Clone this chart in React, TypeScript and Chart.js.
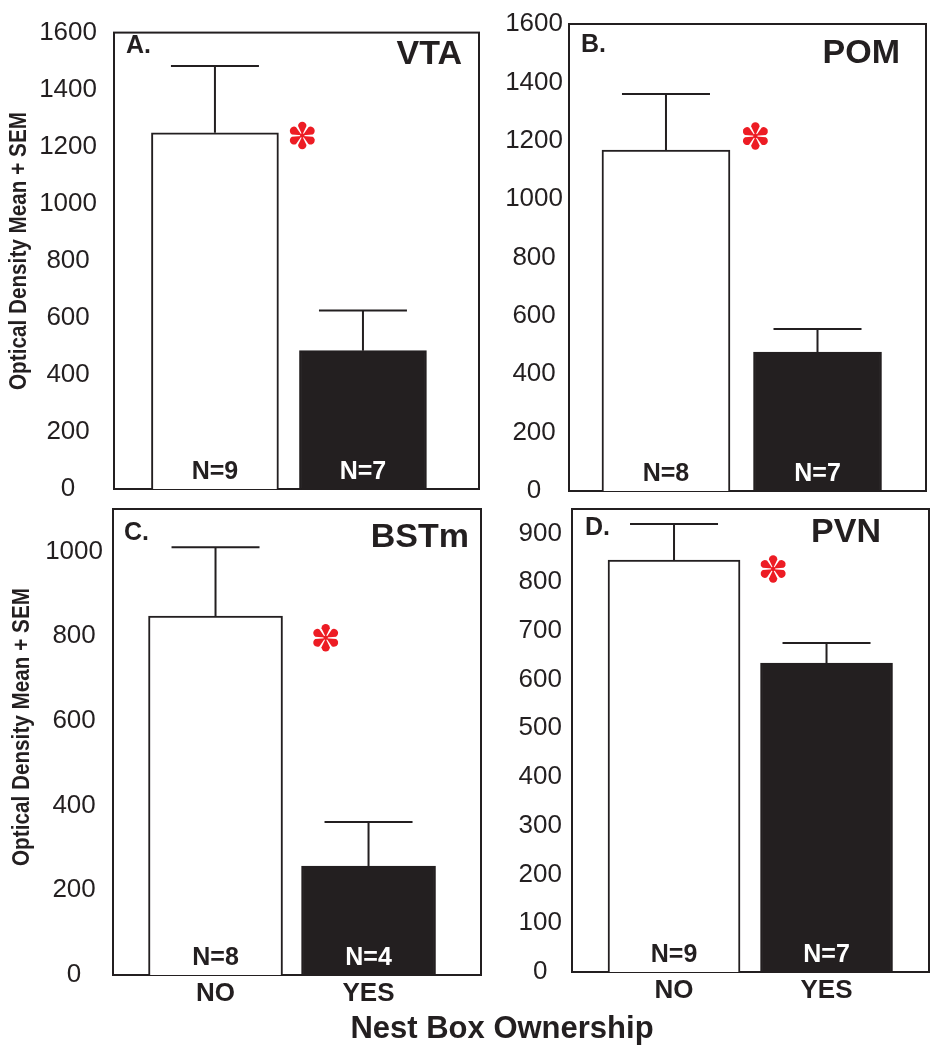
import React, { useEffect, useRef } from 'react';
import { Chart, registerables } from 'chart.js';

Chart.register(...registerables);

// ---------- data ----------
const categories = ['NO', 'YES'];
const regionNames = ['VTA', 'POM', 'BSTm', 'PVN'];
const panelLetters = ['A.', 'B.', 'C.', 'D.'];

const vtaMeans = [1249, 485];
const vtaSem = [234, 141];
const vtaN = [9, 7];

const pomMeans = [1168, 476];
const pomSem = [192, 79];
const pomN = [8, 7];

const bstmMeans = [847, 257];
const bstmSem = [163, 104];
const bstmN = [8, 4];

const pvnMeans = [845, 634];
const pvnSem = [74, 41];
const pvnN = [9, 7];

// significance marker positions in data units [x (category space), y]
const vtaStar = [0.59, 1239];
const pomStar = [0.59, 1216];
const bstmStar = [0.72, 796];
const pvnStar = [0.65, 827];

const yAxisTitle = 'Optical Density Mean + SEM';
const xAxisTitle = 'Nest Box Ownership';

// ---------- styles / layout ----------
const INK = '#231f20';
const RED = '#ed1c24';
const W = 936;
const H = 1050;
const SANS = '"Liberation Sans", Arial, Helvetica, sans-serif';

type PanelCfg = {
  key: string;
  region: string;
  letter: string;
  means: number[];
  sem: number[];
  n: number[];
  star: number[];
  box: { l: number; t: number; r: number; b: number };
  xMin: number;
  xMax: number;
  barThickness: number;
  yMax: number;
  yStep: number;
  tickPad: number;
  showX: boolean;
  letterAt: number[];
  regionRightAt: number[];
  yTitleAt?: number[];
  xTitleAt?: number[];
};

const panels: PanelCfg[] = [
  {
    key: 'A', region: regionNames[0], letter: panelLetters[0],
    means: vtaMeans, sem: vtaSem, n: vtaN, star: vtaStar,
    box: { l: 114, t: 24, r: 479, b: 489 },
    xMin: -0.682, xMax: 1.784, barThickness: 127,
    yMax: 1600, yStep: 200, tickPad: 17, showX: false,
    letterAt: [126, 46], regionRightAt: [462, 55],
    yTitleAt: [20, 251],
  },
  {
    key: 'B', region: regionNames[1], letter: panelLetters[1],
    means: pomMeans, sem: pomSem, n: pomN, star: pomStar,
    box: { l: 569, t: 24, r: 926, b: 491 },
    xMin: -0.640, xMax: 1.716, barThickness: 128,
    yMax: 1600, yStep: 200, tickPad: 6, showX: false,
    letterAt: [581, 45], regionRightAt: [900, 54],
  },
  {
    key: 'C', region: regionNames[2], letter: panelLetters[2],
    means: bstmMeans, sem: bstmSem, n: bstmN, star: bstmStar,
    box: { l: 113, t: 509, r: 481, b: 975 },
    xMin: -0.670, xMax: 1.735, barThickness: 134,
    yMax: 1100, yStep: 200, tickPad: 10, showX: true,
    letterAt: [124, 533], regionRightAt: [469, 538],
    yTitleAt: [23, 727], xTitleAt: [502, 1029],
  },
  {
    key: 'D', region: regionNames[3], letter: panelLetters[3],
    means: pvnMeans, sem: pvnSem, n: pvnN, star: pvnStar,
    box: { l: 572, t: 509, r: 929, b: 972 },
    xMin: -0.669, xMax: 1.672, barThickness: 132,
    yMax: 950, yStep: 100, tickPad: 10, showX: true,
    letterAt: [585, 528], regionRightAt: [881, 533],
  },
];

const X_AXIS_H = 40;

// six teardrop-petal asterisk (significance marker)
function drawStar(ctx: CanvasRenderingContext2D, cx: number, cy: number, r: number) {
  ctx.save();
  ctx.fillStyle = RED;
  for (let k = 0; k < 6; k++) {
    const ang = -Math.PI / 2 + (k * Math.PI) / 3;
    const c = Math.cos(ang);
    const s = Math.sin(ang);
    const tipR = r * 0.3;
    const endC = r * 0.68;
    const w = r * 0.3;
    ctx.beginPath();
    // narrow start near the centre
    ctx.moveTo(cx + c * r * 0.05, cy + s * r * 0.05);
    const px = -s;
    const py = c;
    ctx.lineTo(cx + c * endC + px * w, cy + s * endC + py * w);
    ctx.arc(cx + c * endC, cy + s * endC, w, ang + Math.PI / 2, ang - Math.PI / 2, true);
    ctx.closePath();
    ctx.fill();
    void tipR;
  }
  ctx.beginPath();
  ctx.arc(cx, cy, r * 0.16, 0, Math.PI * 2);
  ctx.fill();
  ctx.restore();
}

function decorPlugin(p: PanelCfg) {
  return {
    id: 'decor' + p.key,
    beforeDatasetsDraw(chart: any) {
      const { ctx, chartArea: a } = chart;
      ctx.save();
      ctx.strokeStyle = INK;
      ctx.lineWidth = 2;
      ctx.strokeRect(a.left, a.top, a.right - a.left, a.bottom - a.top);
      ctx.restore();
    },
    afterDatasetsDraw(chart: any) {
      const { ctx, chartArea: a } = chart;
      const xs = chart.scales.x;
      const ys = chart.scales.y;
      ctx.save();
      // error bars
      ctx.strokeStyle = INK;
      ctx.lineWidth = 2;
      const capHalf = 44;
      p.means.forEach((m, i) => {
        const px = xs.getPixelForValue(i);
        const y0 = ys.getPixelForValue(m);
        const y1 = ys.getPixelForValue(m + p.sem[i]);
        ctx.beginPath();
        ctx.moveTo(px, y0);
        ctx.lineTo(px, y1);
        ctx.moveTo(px - capHalf, y1);
        ctx.lineTo(px + capHalf, y1);
        ctx.stroke();
      });
      // N labels
      ctx.font = `bold 25px ${SANS}`;
      ctx.textAlign = 'center';
      ctx.textBaseline = 'middle';
      p.n.forEach((nv, i) => {
        const px = xs.getPixelForValue(i);
        ctx.fillStyle = i === 0 ? INK : '#ffffff';
        ctx.fillText('N=' + nv, px, a.bottom - 17);
      });
      // panel letter
      ctx.fillStyle = INK;
      ctx.textAlign = 'left';
      ctx.font = `bold 25px ${SANS}`;
      ctx.fillText(p.letter, p.letterAt[0], p.letterAt[1]);
      // region name
      ctx.textAlign = 'right';
      ctx.font = `bold 34px ${SANS}`;
      ctx.fillText(p.region, p.regionRightAt[0], p.regionRightAt[1]);
      // significance star
      drawStar(ctx, xs.getPixelForValue(p.star[0]), ys.getPixelForValue(p.star[1]), 14);
      // y axis title
      if (p.yTitleAt) {
        ctx.save();
        ctx.translate(p.yTitleAt[0], p.yTitleAt[1]);
        ctx.rotate(-Math.PI / 2);
        ctx.font = `bold 23px ${SANS}`;
        ctx.textAlign = 'center';
        ctx.textBaseline = 'middle';
        ctx.fillStyle = INK;
        ctx.fillText(yAxisTitle, 0, 0, 278);
        ctx.restore();
      }
      // x axis title
      if (p.xTitleAt) {
        ctx.font = `bold 31px ${SANS}`;
        ctx.textAlign = 'center';
        ctx.textBaseline = 'middle';
        ctx.fillStyle = INK;
        ctx.fillText(xAxisTitle, p.xTitleAt[0], p.xTitleAt[1]);
      }
      ctx.restore();
    },
  };
}

function buildConfig(p: PanelCfg): any {
  const padBottom = p.showX ? H - p.box.b - X_AXIS_H : H - p.box.b;
  return {
    type: 'bar',
    data: {
      datasets: [
        {
          data: p.means.map((m, i) => ({ x: i, y: m })),
          backgroundColor: ['#ffffff', INK],
          borderColor: INK,
          borderWidth: 2,
          borderSkipped: 'start',
          barThickness: p.barThickness,
        },
      ],
    },
    options: {
      responsive: false,
      animation: false,
      devicePixelRatio: 1,
      layout: { padding: { left: 0, top: p.box.t, right: W - p.box.r, bottom: padBottom } },
      plugins: {
        legend: { display: false },
        tooltip: { enabled: false },
        title: { display: false },
      },
      scales: {
        x: {
          type: 'linear',
          min: p.xMin,
          max: p.xMax,
          offset: false,
          display: p.showX,
          grid: { display: false, drawTicks: false },
          border: { display: false },
          afterBuildTicks: (s: any) => {
            s.ticks = categories.map((_, i) => ({ value: i }));
          },
          afterFit: (s: any) => {
            if (p.showX) s.height = X_AXIS_H;
          },
          ticks: {
            autoSkip: false,
            maxRotation: 0,
            padding: 3,
            color: INK,
            font: { family: SANS, size: 26, weight: 'bold' },
            callback: (v: any) => categories[Math.round(Number(v))] ?? '',
          },
        },
        y: {
          min: 0,
          max: p.yMax,
          grid: { display: false, drawTicks: false },
          border: { display: false },
          afterBuildTicks: (s: any) => {
            const out: any[] = [];
            for (let v = 0; v <= p.yMax + 1e-6; v += p.yStep) out.push({ value: v });
            s.ticks = out;
          },
          afterFit: (s: any) => {
            s.width = p.box.l;
          },
          ticks: {
            stepSize: p.yStep,
            autoSkip: false,
            crossAlign: 'center',
            padding: p.tickPad,
            color: INK,
            font: { family: SANS, size: 26 },
            callback: (v: any) => String(Math.round(Number(v))),
          },
        },
      },
    },
    plugins: [decorPlugin(p)],
  };
}

function Panel({ cfg }: { cfg: PanelCfg }) {
  const ref = useRef<HTMLCanvasElement | null>(null);
  useEffect(() => {
    if (!ref.current) return;
    const chart = new Chart(ref.current, buildConfig(cfg));
    return () => chart.destroy();
  }, [cfg]);
  return (
    <canvas
      ref={ref}
      width={W}
      height={H}
      style={{ position: 'absolute', left: 0, top: 0, width: W, height: H }}
    />
  );
}

export default function App() {
  return (
    <div style={{ position: 'absolute', left: 0, top: 0, width: W, height: H, background: '#ffffff' }}>
      {panels.map((p) => (
        <Panel key={p.key} cfg={p} />
      ))}
    </div>
  );
}
